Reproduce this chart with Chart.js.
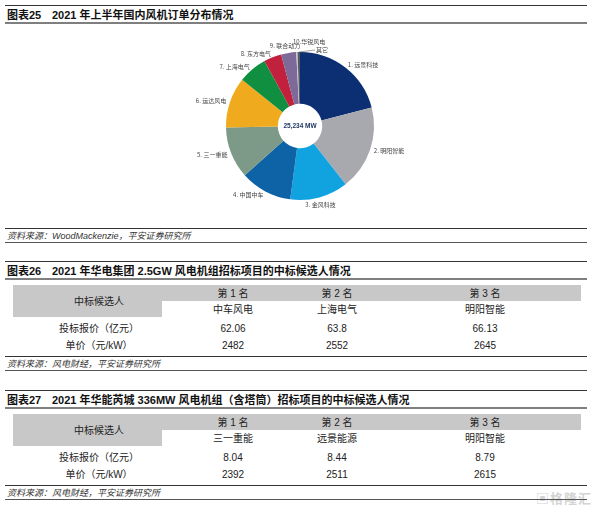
<!DOCTYPE html>
<html>
<head>
<meta charset="utf-8">
<script src="https://cdn.jsdelivr.net/npm/chart.js@4.4.1/dist/chart.umd.min.js"></script>
<style>
  body { margin: 0; width: 600px; height: 507px; overflow: hidden; position: relative; background: #fff;
         font-family: "Liberation Sans", "Noto Sans CJK SC", sans-serif; color: #222; }
  .ln { position: absolute; left: 5px; width: 582px; height: 1px; background: #333; }
  .thick { height: 2px; background: #7f7f7f; }
  .light { background: #555; }
  .title { position: absolute; left: 7px; font-size: 11px; font-weight: bold; line-height: 12px; white-space: nowrap; color: #111; }
  .title span { display: inline-block; width: 45px; }
  .src { position: absolute; left: 7px; font-size: 9px; font-style: italic; line-height: 10px; color: #333; white-space: nowrap; }
  .bg { position: absolute; background: #c8c8c8; }
  .cell { position: absolute; font-size: 10px; line-height: 12px; white-space: nowrap; transform: translate(-50%, -50%); color: #222; }
  #pie { position: absolute; left: 150px; top: 26px; }
  .mark { position: absolute; left: 536px; top: 488px; font-size: 13px; font-weight: bold; color: #d4d4d4; letter-spacing: 1px; }
</style>
</head>
<body>
<canvas id="pie" width="300" height="200"></canvas>
<div class="mark">▣格隆汇</div>
<script>
// 图表25 数据
const pieLabels = ['1. 远景科技', '2. 明阳智能', '3. 金风科技', '4. 中国中车', '5. 三一重能', '6. 运达风电',
                   '7. 上海电气', '8. 东方电气', '9. 联合动力', '10.华锐风电', '其它'];
const pieValues = [5300, 4650, 3200, 2850, 2850, 2780, 1590, 980, 830, 70, 134];
const pieColors = ['#0b2f72', '#a8a9ae', '#11a3e0', '#0d63a5', '#7d9a88', '#f0aa1e',
                   '#0f8f3f', '#c2213d', '#7e6a98', '#c8c3dc', '#555a60'];
const totalText = '25,234 MW';

// 图表26 / 27 数据
const rankLabels = ['第 1 名', '第 2 名', '第 3 名'];
const rowLabels = ['中标候选人', '投标报价（亿元）', '单价（元/kW）'];
const t26Names = ['中车风电', '上海电气', '明阳智能'];
const t26Bids = ['62.06', '63.8', '66.13'];
const t26Units = ['2482', '2552', '2645'];
const t27Names = ['三一重能', '远景能源', '明阳智能'];
const t27Bids = ['8.04', '8.44', '8.79'];
const t27Units = ['2392', '2511', '2615'];

const colX = [233, 337, 485];
const labelX = 99;

function add(cls, css, html) {
  const d = document.createElement('div');
  d.className = cls;
  Object.assign(d.style, css);
  if (html !== undefined) d.innerHTML = html;
  document.body.appendChild(d);
  return d;
}

function header(top, no, text) {
  add('ln', { top: top + 'px' });
  add('title', { top: (top + 3.5) + 'px' }, '<span>图表' + no + '</span>' + text);
  add('ln thick', { top: (top + 17) + 'px' });
}

function source(top, text) {
  add('ln', { top: top + 'px' });
  add('src', { top: (top + 3) + 'px' }, text);
  add('ln light', { top: (top + 14) + 'px' });
}

function table(top, names, bids, units) {
  add('bg', { left: '13px', top: (top + 24) + 'px', width: '568px', height: '16px' });
  add('bg', { left: '13px', top: (top + 24) + 'px', width: '149px', height: '32px' });
  add('cell', { left: labelX + 'px', top: (top + 40.5) + 'px' }, rowLabels[0]);
  add('cell', { left: labelX + 'px', top: (top + 68) + 'px' }, rowLabels[1]);
  add('cell', { left: labelX + 'px', top: (top + 85) + 'px' }, rowLabels[2]);
  for (let i = 0; i < 3; i++) {
    add('cell', { left: colX[i] + 'px', top: (top + 32.5) + 'px' }, rankLabels[i]);
    add('cell', { left: colX[i] + 'px', top: (top + 49) + 'px' }, names[i]);
    add('cell', { left: colX[i] + 'px', top: (top + 68) + 'px' }, bids[i]);
    add('cell', { left: colX[i] + 'px', top: (top + 85) + 'px' }, units[i]);
  }
  source(top + 95, '资料来源：风电财经，平安证券研究所');
}

header(5, '25', '2021 年上半年国内风机订单分布情况');
source(228, '资料来源：WoodMackenzie，平安证券研究所');

header(261, '26', '2021 年华电集团 2.5GW 风电机组招标项目的中标候选人情况');
table(261, t26Names, t26Bids, t26Units);

header(390, '27', '2021 年华能芮城 336MW 风电机组（含塔筒）招标项目的中标候选人情况');
table(390, t27Names, t27Bids, t27Units);

// 扇区标签 + 中心文字
const sliceLabels = {
  id: 'sliceLabels',
  afterDatasetsDraw(chart) {
    const ctx = chart.ctx;
    const arcs = chart.getDatasetMeta(0).data;
    ctx.save();
    ctx.font = '6px "Noto Sans CJK SC", sans-serif';
    ctx.fillStyle = '#444';
    ctx.strokeStyle = '#666';
    ctx.lineWidth = 0.6;
    ctx.textBaseline = 'middle';
    arcs.forEach((arc, i) => {
      const p = arc.getProps(['x', 'y', 'startAngle', 'endAngle', 'outerRadius'], true);
      const mid = (p.startAngle + p.endAngle) / 2;
      const c = Math.cos(mid), s = Math.sin(mid);
      if (i === pieLabels.length - 2) {
        ctx.textAlign = 'left';
        ctx.fillText(pieLabels[i], p.x - 7, p.y - p.outerRadius - 10);
        return;
      }
      if (i === pieLabels.length - 1) {
        const ex = p.x + c * p.outerRadius, ey = p.y + s * p.outerRadius;
        ctx.beginPath();
        ctx.moveTo(ex, ey);
        ctx.lineTo(p.x + 15, p.y - p.outerRadius - 2);
        ctx.stroke();
        ctx.textAlign = 'left';
        ctx.fillText(pieLabels[i], p.x + 16, p.y - p.outerRadius - 2.5);
        return;
      }
      const r = p.outerRadius + 4;
      ctx.textAlign = c > 0.3 ? 'left' : (c < -0.3 ? 'right' : 'center');
      const dx = i === pieLabels.length - 3 ? -3 : 0;
      ctx.fillText(pieLabels[i], p.x + c * r + dx, p.y + s * r + (Math.abs(c) <= 0.3 ? 3 * Math.sign(s) : 0));
    });
    const a = arcs[0];
    ctx.font = 'bold 6.5px "Liberation Sans", sans-serif';
    ctx.fillStyle = '#1f3864';
    ctx.textAlign = 'center';
    ctx.fillText(totalText, a.x, a.y);
    ctx.restore();
  }
};

new Chart(document.getElementById('pie').getContext('2d'), {
  type: 'doughnut',
  data: {
    labels: pieLabels,
    datasets: [{
      data: pieValues,
      backgroundColor: pieColors,
      borderWidth: 0
    }]
  },
  options: {
    responsive: false,
    animation: false,
    cutout: '30%',
    layout: { padding: 26 },
    plugins: { legend: { display: false }, tooltip: { enabled: false } }
  },
  plugins: [sliceLabels]
});
</script>
</body>
</html>
